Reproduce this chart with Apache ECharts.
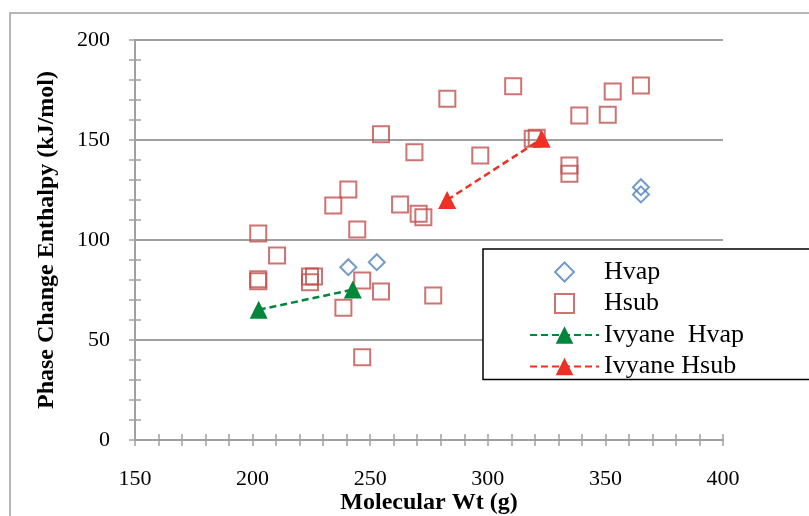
<!DOCTYPE html>
<html>
<head>
<meta charset="utf-8">
<script src="https://cdn.jsdelivr.net/npm/echarts@6/dist/echarts.min.js"></script>
<style>
  html, body { margin: 0; padding: 0; background: #fff; }
  #chart { width: 809px; height: 516px; }
</style>
</head>
<body>
<div id="chart"></div>
<script>
// Molecular weight (g) vs. phase change enthalpy (kJ/mol)
const hvapMw   = [240.7, 252.8, 365.1, 365.1];
const hvapH    = [86.4, 88.9, 126.4, 122.8];

const hsubMw   = [202.4, 202.4, 202.4, 210.4, 224.4, 226.1, 224.4, 238.6, 234.3, 240.7,
                  244.5, 246.6, 246.6, 254.6, 254.6, 262.7, 268.8, 270.6, 272.6, 276.8,
                  282.8, 296.8, 310.8, 319.1, 320.8, 334.7, 334.7, 338.9, 351.0, 353.1, 365.1];
const hsubH    = [103.3, 80.4, 79.4, 92.3, 81.8, 81.8, 78.9, 66.1, 117.3, 125.3,
                  105.3, 79.8, 41.4, 74.3, 152.9, 117.8, 143.9, 113.1, 111.4, 72.3,
                  170.6, 142.3, 176.9, 150.6, 151.1, 137.3, 133.1, 162.3, 162.6, 174.3, 177.3];

const ivyHvapMw = [202.6, 242.6];
const ivyHvapH  = [65.1, 75.2];
const ivyHsubMw = [282.7, 322.9];
const ivyHsubH  = [120.0, 150.6];

const seriesNames = ['Hvap', 'Hsub', 'Ivyane  Hvap', 'Ivyane Hsub'];
const xTitle = 'Molecular Wt (g)';
const yTitle = 'Phase Change Enthalpy (kJ/mol)';

const zip = (xs, ys) => xs.map((x, i) => [x, ys[i]]);

const AXIS_GRAY = '#A0A0A0';
const SERIF = '"Liberation Serif", "Times New Roman", serif';
const BLUE = '#4F81BD', BRICK = '#C0504D', GREEN = '#00873C', RED = '#EE3124';

// Legend icons: outline square and diamond, padded inside a 22x22 box
const squareIcon  = 'path://M0,0M22,22M1.5,1.5L20.5,1.5L20.5,20.5L1.5,20.5Z';
const diamondIcon = 'path://M0,0M22,22M11,1.5L20.5,11L11,20.5L1.5,11Z';

const chart = echarts.init(document.getElementById('chart'), null, { renderer: 'canvas' });

const tickStyle = { color: AXIS_GRAY, width: 1.5 };
const lineStyle = { color: AXIS_GRAY, width: 2 };

function xAxisDef(inside, extra) {
  return Object.assign({
    type: 'value', min: 150, max: 400, interval: 50, position: 'bottom', offset: 0,
    axisLine: { show: true, onZero: false, lineStyle: lineStyle },
    splitLine: { show: false },
    axisTick: { show: true, inside: inside, length: 6, lineStyle: tickStyle },
    minorTick: { show: true, splitNumber: 5, length: 6, lineStyle: tickStyle },
    axisLabel: { show: false }
  }, extra || {});
}
function yAxisDef(inside, extra) {
  return Object.assign({
    type: 'value', min: 0, max: 200, interval: 50, position: 'left', offset: 0,
    axisLine: { show: true, onZero: false, lineStyle: lineStyle },
    splitLine: { show: false },
    axisTick: { show: true, inside: inside, length: 6, lineStyle: tickStyle },
    minorTick: { show: true, splitNumber: 5, length: 6, lineStyle: tickStyle },
    axisLabel: { show: false }
  }, extra || {});
}

chart.setOption({
  animation: false,
  backgroundColor: '#fff',
  graphic: [{
    type: 'rect', silent: true, z: -10,
    shape: { x: 10, y: 13, width: 900, height: 600 },
    style: { fill: 'none', stroke: AXIS_GRAY, lineWidth: 1.5 }
  }],
  grid: { left: 135, top: 40, width: 588, height: 400, containLabel: false, outerBoundsMode: 'none' },
  xAxis: [
    xAxisDef(false, {
      name: xTitle, nameLocation: 'middle', nameGap: 51, nameMoveOverlap: false,
      nameTextStyle: { fontFamily: SERIF, fontWeight: 'bold', fontSize: 24, color: '#000' },
      axisLabel: { show: true, margin: 28, fontFamily: SERIF, fontSize: 22, color: '#000' }
    }),
    xAxisDef(true)
  ],
  yAxis: [
    yAxisDef(false, {
      name: yTitle, nameLocation: 'middle', nameGap: 76, nameRotate: 90, nameMoveOverlap: false,
      nameTextStyle: { fontFamily: SERIF, fontWeight: 'bold', fontSize: 24, color: '#000' },
      splitLine: { show: true, lineStyle: lineStyle },
      axisLabel: { show: true, margin: 25, fontFamily: SERIF, fontSize: 22, color: '#000' }
    }),
    yAxisDef(true)
  ],
  legend: {
    orient: 'vertical',
    left: 483, top: 249,
    padding: [10, 66, 0, 46],
    itemWidth: 69, itemHeight: 22, itemGap: 5.5,
    borderColor: '#000', borderWidth: 1.5,
    backgroundColor: '#fff',
    symbolKeepAspect: true,
    textStyle: { fontFamily: SERIF, fontSize: 26, color: '#000', lineHeight: 26 },
    data: [
      { name: seriesNames[0], icon: diamondIcon,
        itemStyle: { color: 'rgba(0,0,0,0)', borderColor: BLUE, borderWidth: 2 } },
      { name: seriesNames[1], icon: squareIcon,
        itemStyle: { color: 'rgba(0,0,0,0)', borderColor: BRICK, borderWidth: 2 } },
      { name: seriesNames[2] },
      { name: seriesNames[3] }
    ]
  },
  series: [
    {
      name: seriesNames[0], type: 'scatter',
      data: zip(hvapMw, hvapH),
      symbol: 'diamond', symbolSize: 16,
      itemStyle: { color: 'rgba(0,0,0,0)', borderColor: BLUE, borderWidth: 2 },
      z: 3
    },
    {
      name: seriesNames[1], type: 'scatter',
      data: zip(hsubMw, hsubH),
      symbol: 'rect', symbolSize: 16,
      itemStyle: { color: 'rgba(0,0,0,0)', borderColor: BRICK, borderWidth: 2 },
      z: 3
    },
    {
      name: seriesNames[2], type: 'line',
      data: zip(ivyHvapMw, ivyHvapH),
      symbol: 'triangle', symbolSize: 18, showSymbol: true,
      lineStyle: { color: GREEN, width: 2.5, type: [7, 4] },
      itemStyle: { color: GREEN, borderWidth: 0 },
      z: 4
    },
    {
      name: seriesNames[3], type: 'line',
      data: zip(ivyHsubMw, ivyHsubH),
      symbol: 'triangle', symbolSize: 18, showSymbol: true,
      lineStyle: { color: RED, width: 2.5, type: [7, 4] },
      itemStyle: { color: RED, borderWidth: 0 },
      z: 4
    }
  ]
});
</script>
</body>
</html>
